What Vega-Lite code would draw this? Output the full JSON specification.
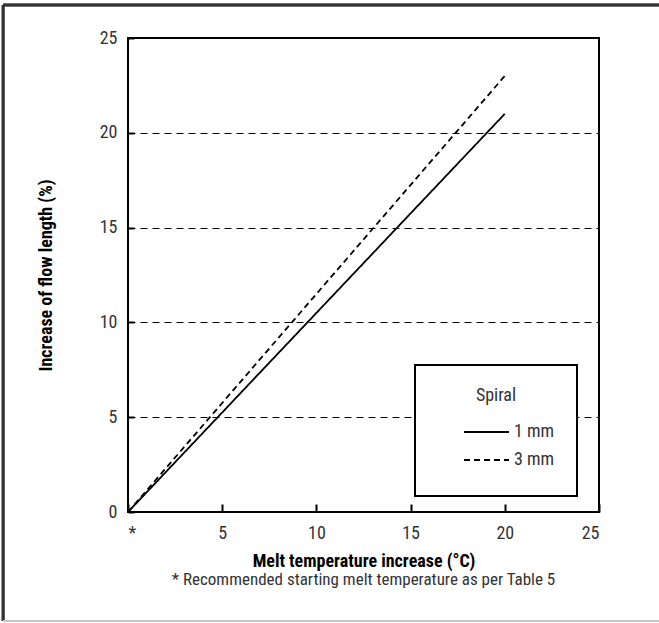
{
  "$schema": "https://vega.github.io/schema/vega-lite/v6.json",
  "width": 471,
  "height": 474,
  "autosize": "none",
  "padding": {"left": 128, "top": 38, "right": 60, "bottom": 111},
  "background": "white",
  "title": {
    "text": "* Recommended starting melt temperature as per Table 5",
    "orient": "bottom",
    "anchor": "middle",
    "offset": -50,
    "fontSize": 17,
    "fontWeight": "normal",
    "color": "#333333",
    "font": "Roboto Condensed, sans-serif"
  },
  "data": {
    "values": [
      {"temp": 0, "increase": 0, "spiral": "1 mm"},
      {"temp": 20, "increase": 21, "spiral": "1 mm"},
      {"temp": 0, "increase": 0, "spiral": "3 mm"},
      {"temp": 20, "increase": 23, "spiral": "3 mm"}
    ]
  },
  "layer": [
    {
      "mark": {"type": "line", "color": "black", "strokeWidth": 1.8},
      "encoding": {
        "x": {
          "field": "temp",
          "type": "quantitative",
          "scale": {"domain": [0, 25], "nice": false},
          "axis": {
            "title": "Melt temperature increase (°C)",
            "values": [0, 5, 10, 15, 20, 25],
            "labelExpr": "datum.value == 0 ? '*' : datum.label",
            "grid": false,
            "domain": false,
            "tickSize": -8,
            "tickWidth": 2,
            "tickColor": "black",
            "labelPadding": 20,
            "titlePadding": 10
          }
        },
        "y": {
          "field": "increase",
          "type": "quantitative",
          "scale": {"domain": [0, 25], "nice": false},
          "axis": {
            "title": "Increase of flow length (%)",
            "values": [0, 5, 10, 15, 20, 25],
            "grid": true,
            "gridDash": [7, 5],
            "gridColor": "black",
            "gridWidth": 1,
            "gridOpacity": 1,
            "domain": false,
            "tickSize": -6,
            "tickWidth": 2,
            "tickColor": "black",
            "labelPadding": 17,
            "titlePadding": 44
          }
        },
        "strokeDash": {
          "field": "spiral",
          "type": "nominal",
          "scale": {"domain": ["1 mm", "3 mm"], "range": [[1, 0], [6, 4]]},
          "legend": {
            "title": "Spiral",
            "orient": "none",
            "legendX": 287,
            "legendY": 327,
            "symbolType": "stroke",
            "symbolSize": 2025,
            "symbolStrokeWidth": 1.8,
            "symbolStrokeColor": "black",
            "symbolOffset": 26,
            "clipHeight": 28,
            "rowPadding": 0,
            "padding": 22,
            "titleAnchor": "middle",
            "titlePadding": 13
          }
        }
      }
    },
    {
      "mark": {"type": "rule", "color": "#333333", "strokeWidth": 2.5, "clip": false},
      "encoding": {
        "x": {"datum": -6.63, "type": "quantitative"},
        "y": {"datum": -5.75, "type": "quantitative"},
        "y2": {"datum": 26.74}
      }
    },
    {
      "mark": {"type": "rule", "color": "#333333", "strokeWidth": 2.5, "clip": false},
      "encoding": {
        "y": {"datum": 26.74, "type": "quantitative"},
        "x": {"datum": -6.63, "type": "quantitative"},
        "x2": {"datum": 30}
      }
    },
    {
      "mark": {"type": "rule", "color": "#c8c8c8", "strokeWidth": 2, "clip": false},
      "encoding": {
        "y": {"datum": -5.75, "type": "quantitative"},
        "x": {"datum": -6.63, "type": "quantitative"},
        "x2": {"datum": 30}
      }
    }
  ],
  "config": {
    "font": "Roboto Condensed, sans-serif",
    "view": {"stroke": "black", "strokeWidth": 2},
    "axis": {
      "labelFont": "Roboto Condensed, sans-serif",
      "titleFont": "Roboto Condensed, sans-serif",
      "labelFontSize": 18,
      "labelColor": "#333333",
      "titleFontSize": 18,
      "titleFontWeight": "bold",
      "titleColor": "black"
    },
    "legend": {
      "strokeColor": "black",
      "strokeWidth": 2,
      "fillColor": "white",
      "labelFont": "Roboto Condensed, sans-serif",
      "titleFont": "Roboto Condensed, sans-serif",
      "labelFontSize": 18,
      "labelColor": "#333333",
      "titleFontSize": 18,
      "titleFontWeight": "normal",
      "titleColor": "#333333",
      "labelOffset": 4
    }
  }
}
